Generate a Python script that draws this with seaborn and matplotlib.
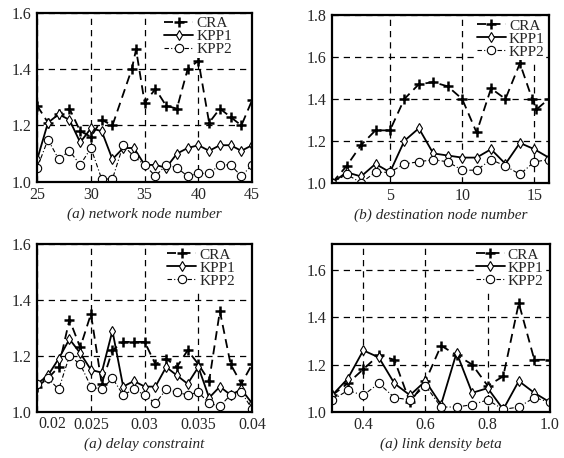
import matplotlib
matplotlib.use('Agg')
import matplotlib.pyplot as plt
import seaborn as sns

# (a) network node number
a_x = list(range(25, 46))
a_cra_x = [25, 26, 27, 28, 29, 30, 31, 32, 33.8, 34.2, 35, 36, 37, 38, 39, 40, 41, 42, 43, 44, 45]
a_cra = [1.27, 1.21, 1.24, 1.26, 1.18, 1.16, 1.22, 1.20, 1.40, 1.47, 1.28, 1.33, 1.27, 1.26, 1.40, 1.43,
         1.21, 1.26, 1.23, 1.20, 1.29]
a_kpp1 = [1.08, 1.21, 1.24, 1.22, 1.14, 1.19, 1.18, 1.08, 1.12, 1.12, 1.06, 1.06, 1.05, 1.10, 1.12, 1.13,
          1.11, 1.13, 1.13, 1.11, 1.13]
a_kpp2 = [1.05, 1.15, 1.08, 1.11, 1.06, 1.12, 1.01, 1.01, 1.13, 1.09, 1.06, 1.02, 1.06, 1.05, 1.02, 1.03,
          1.03, 1.06, 1.06, 1.02, 1.06]

# (b) destination node number
b_x = list(range(1, 17))
b_cra_x = [1, 2, 3, 4, 5, 6, 7, 8, 9, 10, 11, 12, 13, 14, 14.85, 15.15, 16]
b_cra = [1.00, 1.08, 1.18, 1.25, 1.25, 1.40, 1.47, 1.48, 1.46, 1.40, 1.24, 1.45, 1.40, 1.57, 1.40, 1.35, 1.40]
b_kpp1 = [1.00, 1.05, 1.03, 1.09, 1.05, 1.20, 1.26, 1.14, 1.13, 1.12, 1.12, 1.16, 1.09, 1.19, 1.16, 1.12]
b_kpp2 = [1.00, 1.04, 1.00, 1.05, 1.05, 1.09, 1.10, 1.11, 1.10, 1.06, 1.06, 1.11, 1.08, 1.04, 1.10, 1.11]

# (c) delay constraint
c_x = [0.020, 0.021, 0.022, 0.023, 0.024, 0.025, 0.026, 0.027, 0.028, 0.029, 0.030,
       0.031, 0.032, 0.033, 0.034, 0.035, 0.036, 0.037, 0.038, 0.039, 0.040]
c_cra = [1.09, 1.12, 1.16, 1.33, 1.23, 1.35, 1.10, 1.22, 1.25, 1.25, 1.25,
         1.17, 1.19, 1.16, 1.22, 1.17, 1.11, 1.36, 1.17, 1.10, 1.17]
c_kpp1 = [1.10, 1.13, 1.19, 1.26, 1.21, 1.15, 1.14, 1.29, 1.09, 1.11, 1.09,
          1.09, 1.16, 1.13, 1.10, 1.16, 1.05, 1.09, 1.06, 1.08, 1.03]
c_kpp2 = [1.10, 1.12, 1.08, 1.20, 1.17, 1.09, 1.08, 1.12, 1.06, 1.08, 1.06,
          1.03, 1.08, 1.07, 1.06, 1.07, 1.03, 1.02, 1.06, 1.07, 1.01]

# (d) link density beta
d_x = [0.30, 0.35, 0.40, 0.45, 0.50, 0.55, 0.60, 0.65, 0.70, 0.75, 0.80, 0.85, 0.90, 0.95, 1.00]
d_cra = [1.07, 1.12, 1.18, 1.24, 1.22, 1.04, 1.13, 1.28, 1.24, 1.20, 1.11, 1.15, 1.46, 1.22, 1.22]
d_kpp1 = [1.07, 1.14, 1.26, 1.23, 1.12, 1.07, 1.13, 1.03, 1.25, 1.08, 1.10, 1.01, 1.13, 1.08, 1.04]
d_kpp2 = [1.05, 1.09, 1.07, 1.12, 1.06, 1.05, 1.11, 1.02, 1.02, 1.03, 1.05, 1.01, 1.02, 1.06, 1.04]

sns.set_style('white')
plt.rcParams['font.family'] = ['Liberation Serif', 'DejaVu Serif']

fig = plt.figure(figsize=(5.64, 4.58), dpi=100)
ax_a = fig.add_axes([0.066, 0.603, 0.381, 0.369])
ax_b = fig.add_axes([0.589, 0.601, 0.384, 0.366])
ax_c = fig.add_axes([0.066, 0.101, 0.381, 0.366])
ax_d = fig.add_axes([0.589, 0.101, 0.386, 0.366])


def draw(ax, cx, cra, x, kpp1, kpp2, right):
    sns.lineplot(x=cx, y=cra, ax=ax, color='k', marker='+', markersize=7, markeredgewidth=1.8,
                 markeredgecolor='k', linestyle=(0, (5, 3)), linewidth=1.3, label='CRA')
    sns.lineplot(x=x, y=kpp1, ax=ax, color='k', marker='d', markersize=5, markerfacecolor='white',
                 markeredgecolor='k', markeredgewidth=0.8, linestyle='-', linewidth=1.3, label='KPP1')
    sns.lineplot(x=x, y=kpp2, ax=ax, color='k', marker='o', markersize=6, markerfacecolor='white',
                 markeredgecolor='k', markeredgewidth=0.8, linestyle=(0, (4, 2, 1, 2)), linewidth=0.8,
                 label='KPP2')
    ax.grid(True, color='k', linestyle=(0, (5, 4)), linewidth=0.9)
    for s in ax.spines.values():
        s.set_linewidth(1.6)
        s.set_color('k')
    ax.tick_params(length=0, labelsize=11.5, pad=4)
    leg = ax.legend(loc='upper right', bbox_to_anchor=(right, 0.995), frameon=True, framealpha=1,
                    edgecolor='white', fancybox=False, fontsize=11, handlelength=1.9,
                    handletextpad=0.2, labelspacing=-0.05, borderpad=0.1, borderaxespad=0.1)
    leg.get_frame().set_linewidth(0)


draw(ax_a, a_cra_x, a_cra, a_x, a_kpp1, a_kpp2, 0.92)
ax_a.set_xlim(25, 45)
ax_a.set_ylim(1.0, 1.6)
ax_a.set_xticks([25, 30, 35, 40, 45])
ax_a.set_yticks([1.0, 1.2, 1.4, 1.6])
ax_a.set_yticklabels(['1.0', '1.2', '1.4', '1.6'])
ax_a.set_xlabel('(a) network node number', fontsize=11, style='italic', labelpad=3)

draw(ax_b, b_cra_x, b_cra, b_x, b_kpp1, b_kpp2, 0.995)
ax_b.set_xlim(1, 16)
ax_b.set_ylim(1.0, 1.8)
ax_b.set_xticks([5, 10, 15])
ax_b.set_yticks([1.0, 1.2, 1.4, 1.6, 1.8])
ax_b.set_yticklabels(['1.0', '1.2', '1.4', '1.6', '1.8'])
ax_b.set_xlabel('(b) destination node number', fontsize=11, style='italic', labelpad=3)

draw(ax_c, c_x, c_cra, c_x, c_kpp1, c_kpp2, 0.935)
ax_c.set_xlim(0.020, 0.040)
ax_c.set_ylim(1.0, 1.6)
ax_c.set_xticks([0.02, 0.025, 0.03, 0.035, 0.04])
ax_c.set_xticklabels(['', '0.025', '0.03', '0.035', '0.04'])
# first label sits right of the spine in the original
ax_c.annotate('0.02', xy=(0.0, 0.0), xycoords='axes fraction', xytext=(1, -3),
              textcoords='offset points', ha='left', va='top', fontsize=11.5, annotation_clip=False)
ax_c.set_yticks([1.0, 1.2, 1.4, 1.6])
ax_c.set_yticklabels(['1.0', '1.2', '1.4', '1.6'])
ax_c.set_xlabel('(a) delay constraint', fontsize=11, style='italic', labelpad=3)

draw(ax_d, d_x, d_cra, d_x, d_kpp1, d_kpp2, 0.985)
ax_d.set_xlim(0.30, 1.0)
ax_d.set_ylim(1.0, 1.71)
ax_d.set_xticks([0.4, 0.6, 0.8, 1.0])
ax_d.set_xticklabels(['0.4', '0.6', '0.8', '1.0'])
ax_d.set_yticks([1.0, 1.2, 1.4, 1.6])
ax_d.set_yticklabels(['1.0', '1.2', '1.4', '1.6'])
ax_d.set_xlabel('(a) link density beta', fontsize=11, style='italic', labelpad=3)

fig.savefig('out.png', dpi=100)
